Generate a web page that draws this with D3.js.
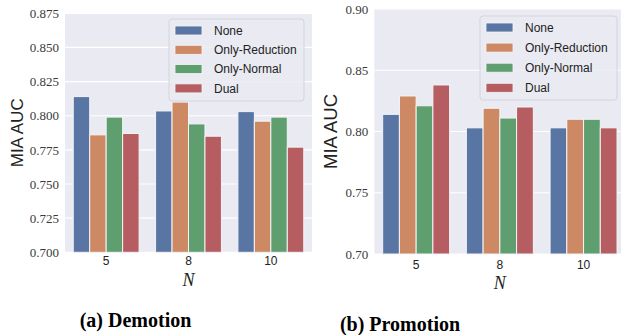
<!DOCTYPE html>
<html>
<head>
<meta charset="utf-8">
<script src="https://cdn.jsdelivr.net/npm/d3@7"></script>
<style>
  body { margin: 0; background: #fff; }
  svg { display: block; }
</style>
</head>
<body>
<div id="chart"></div>
<script>
const groups = ["5", "8", "10"];
const series = ["None", "Only-Reduction", "Only-Normal", "Dual"];
const colors = ["#5975a4", "#cc8963", "#5f9e6e", "#b55d60"];

// MIA AUC per series, one value per N
const demotionValues = [
    [0.814, 0.8035, 0.803],
    [0.786, 0.810, 0.796],
    [0.799, 0.794, 0.799],
    [0.787, 0.785, 0.777]
];
const promotionValues = [
    [0.814, 0.803, 0.803],
    [0.829, 0.819, 0.810],
    [0.821, 0.811, 0.810],
    [0.838, 0.820, 0.803]
];

const demotionTicks = [0.700, 0.725, 0.750, 0.775, 0.800, 0.825, 0.850, 0.875];
const promotionTicks = [0.70, 0.75, 0.80, 0.85, 0.90];

const svg = d3.select("#chart").append("svg")
    .attr("width", 621)
    .attr("height", 335);

function drawPanel(opts) {
    const { values, ticks, fmt, left, right, top, bottom, yDomain,
            labelX, labelSize, nY, xPad, legend, caption } = opts;

    const g = svg.append("g");

    const x0 = d3.scaleBand().domain(groups).range([left, right]).padding(0);
    const x1 = d3.scaleBand().domain(series)
        .range([x0.bandwidth() * 0.1, x0.bandwidth() * 0.9]).padding(0);
    const y = d3.scaleLinear().domain(yDomain).range([bottom, top]);

    g.append("rect")
        .attr("x", left).attr("y", top)
        .attr("width", right - left).attr("height", bottom - top)
        .attr("fill", "#eaeaf2");

    g.selectAll(".grid").data(ticks).enter().append("line")
        .attr("x1", left).attr("x2", right)
        .attr("y1", d => y(d)).attr("y2", d => y(d))
        .attr("stroke", "#fff").attr("stroke-width", 1.2);

    // bars
    series.forEach((s, i) => {
        g.selectAll(".bar-" + i).data(values[i]).enter().append("rect")
            .attr("x", (d, j) => x0(groups[j]) + x1(s))
            .attr("y", d => y(d))
            .attr("width", x1.bandwidth())
            .attr("height", d => y(yDomain[0]) - y(d))
            .attr("fill", colors[i])
            .attr("stroke", "#f4f4f8")
            .attr("stroke-width", 1);
    });

    // y axis
    const yAxis = g.append("g")
        .attr("transform", `translate(${left},0)`)
        .call(d3.axisLeft(y).tickValues(ticks).tickFormat(fmt).tickSize(0).tickPadding(6));
    yAxis.select(".domain").remove();
    yAxis.selectAll("text")
        .attr("font-family", "'Liberation Serif', serif")
        .attr("font-size", 13)
        .attr("fill", "#3a3a3a");

    // x axis
    const xAxis = g.append("g")
        .attr("transform", `translate(0,${bottom})`)
        .call(d3.axisBottom(x0).tickSize(0).tickPadding(xPad));
    xAxis.select(".domain").remove();
    xAxis.selectAll("text")
        .attr("font-family", "'Liberation Sans', sans-serif")
        .attr("font-size", 12)
        .attr("fill", "#222");

    g.append("text")
        .attr("x", x0("8") + x0.bandwidth() / 2)
        .attr("y", nY)
        .attr("text-anchor", "middle")
        .attr("font-family", "'Liberation Serif', serif")
        .attr("font-style", "italic")
        .attr("font-size", 18)
        .attr("fill", "#222")
        .text("N");

    g.append("text")
        .attr("transform", `translate(${labelX},${(top + bottom) / 2}) rotate(-90)`)
        .attr("text-anchor", "middle")
        .attr("font-family", "'Liberation Sans', sans-serif")
        .attr("font-size", labelSize)
        .attr("fill", "#222")
        .text("MIA AUC");

    // legend
    const lg = g.append("g");
    lg.append("rect")
        .attr("x", legend.x).attr("y", legend.y)
        .attr("width", legend.w).attr("height", legend.h)
        .attr("rx", 3)
        .attr("fill", "#eaeaf2").attr("fill-opacity", 0.85)
        .attr("stroke", "#d4d4dc");
    series.forEach((s, i) => {
        const cy = legend.y + 11.5 + i * legend.step;
        lg.append("rect")
            .attr("x", legend.x + 6).attr("y", cy - 4.5)
            .attr("width", 27).attr("height", 9)
            .attr("fill", colors[i])
            .attr("stroke", "#f4f4f8").attr("stroke-width", 0.8);
        lg.append("text")
            .attr("x", legend.x + 45).attr("y", cy)
            .attr("dy", "0.35em")
            .attr("font-family", "'Liberation Sans', sans-serif")
            .attr("font-size", 12)
            .attr("fill", "#222")
            .text(s);
    });

    svg.append("text")
        .attr("x", caption.x).attr("y", caption.y)
        .attr("text-anchor", "middle")
        .attr("font-family", "'Liberation Serif', serif")
        .attr("font-weight", "bold")
        .attr("font-size", 20)
        .attr("fill", "#000")
        .text(caption.text);
}

drawPanel({
    values: demotionValues,
    ticks: demotionTicks,
    fmt: d3.format(".3f"),
    left: 65, right: 312, top: 13.3, bottom: 252.3,
    yDomain: [0.700, 0.875],
    labelX: 23, labelSize: 17, nY: 286, xPad: 4,
    legend: { x: 169, y: 19, w: 135, h: 82, step: 19.3 },
    caption: { x: 135.5, y: 327, text: "(a) Demotion" }
});

drawPanel({
    values: promotionValues,
    ticks: promotionTicks,
    fmt: d3.format(".2f"),
    left: 374.3, right: 625.4, top: 9, bottom: 254,
    yDomain: [0.70, 0.90],
    labelX: 337, labelSize: 18.5, nY: 289, xPad: 6,
    legend: { x: 480, y: 16, w: 137, h: 84, step: 20.1 },
    caption: { x: 400, y: 331, text: "(b) Promotion" }
});
</script>
</body>
</html>
